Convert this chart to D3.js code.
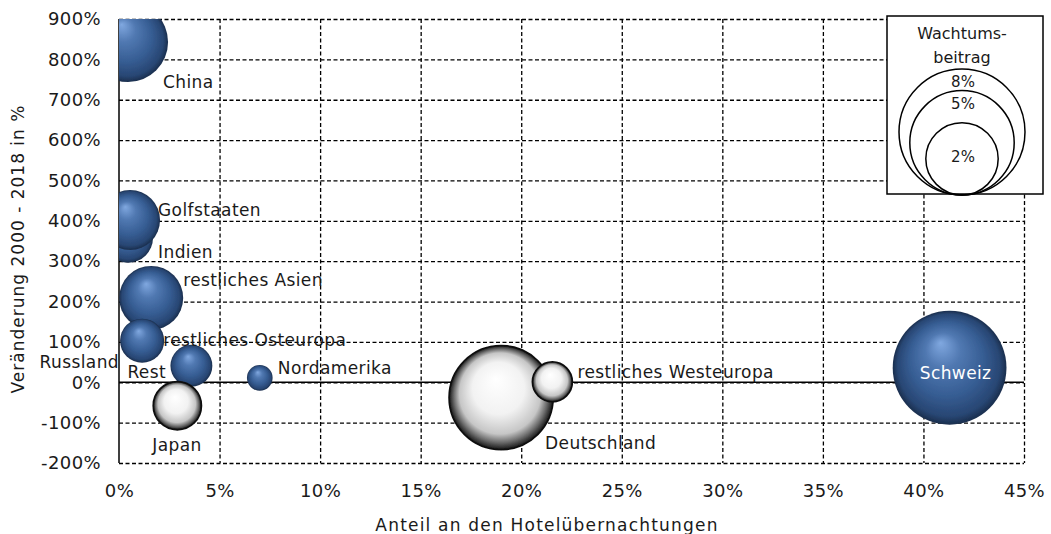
<!DOCTYPE html>
<html>
<head>
<meta charset="utf-8">
<script src="https://cdn.jsdelivr.net/npm/d3@7"></script>
<style>
    body { margin: 0; background: #fff; }
    svg text { font-family: "DejaVu Sans", sans-serif; fill: #1a1a1a; }
</style>
</head>
<body>
<script>
"use strict";

// bubble data
const countries = ["Russland", "China", "Indien", "Golfstaaten", "restliches Asien", "restliches Osteuropa", "Rest", "Nordamerika", "Japan", "Deutschland", "restliches Westeuropa", "Schweiz"];
const shareNights = [0.6, 0.45, 0.45, 0.55, 1.6, 1.15, 3.6, 7.0, 2.9, 19.0, 21.55, 41.3];
const change2000to2018 = [90, 843, 358, 402, 209, 103, 41, 11, -58, -38, 1, 36];
const growthContribution = [0.03, 2.57, 0.79, 1.25, 1.47, 0.58, 0.51, 0.15, -0.72, -4.95, -0.45, 6.2];

const xTicks = [0, 5, 10, 15, 20, 25, 30, 35, 40, 45];
const yTicks = [-200, -100, 0, 100, 200, 300, 400, 500, 600, 700, 800, 900];
const legendSizes = [8, 5, 2];

(function(){
    const measurements = {
        width: 1051,
        height: 534,
        left: 119,
        right: 1024,
        top: 19,
        bottom: 463
    }

    // where each label sits relative to its bubble centre
    const labelOffset = {
        "Russland": [-12, 16, "end"],
        "China": [35, 40, "start"],
        "Indien": [30, 14, "start"],
        "Golfstaaten": [28, -10, "start"],
        "restliches Asien": [32, -18, "start"],
        "restliches Osteuropa": [21, -1, "start"],
        "Rest": [-64, 6, "start"],
        "Nordamerika": [18, -10, "start"],
        "Japan": [-25, 39, "start"],
        "Deutschland": [44, 45, "start"],
        "restliches Westeuropa": [25, -10, "start"],
        "Schweiz": [6, 5, "middle"]
    }

    let svg = d3.select("body").append("svg")
        .attr("width", measurements.width)
        .attr("height", measurements.height)

    let scaleX = d3.scaleLinear()
        .domain([0, 45])
        .range([measurements.left, measurements.right])
    let scaleY = d3.scaleLinear()
        .domain([-200, 900])
        .range([measurements.bottom, measurements.top])
    let scaleR = d3.scalePow().exponent(0.4)
        .domain([0, 8])
        .range([0, 63])

    let defs = svg.append("defs")
    defs.append("clipPath").attr("id", "plot-clip")
        .append("rect")
        .attr("x", measurements.left)
        .attr("y", measurements.top)
        .attr("width", measurements.right - measurements.left)
        .attr("height", measurements.bottom - measurements.top)

    let blue = defs.append("radialGradient").attr("id", "blue-ball")
        .attr("cx", "50%").attr("cy", "50%").attr("r", "50%")
        .attr("fx", "42%").attr("fy", "28%")
    blue.append("stop").attr("offset", "0%").attr("stop-color", "#80a8e0")
    blue.append("stop").attr("offset", "30%").attr("stop-color", "#5179b2")
    blue.append("stop").attr("offset", "65%").attr("stop-color", "#365d93")
    blue.append("stop").attr("offset", "90%").attr("stop-color", "#284673")
    blue.append("stop").attr("offset", "100%").attr("stop-color", "#1a2e4d")

    let white = defs.append("radialGradient").attr("id", "white-ball")
        .attr("cx", "50%").attr("cy", "50%").attr("r", "50%")
        .attr("fx", "45%").attr("fy", "32%")
    white.append("stop").attr("offset", "0%").attr("stop-color", "#ffffff")
    white.append("stop").attr("offset", "50%").attr("stop-color", "#f2f2f2")
    white.append("stop").attr("offset", "78%").attr("stop-color", "#c6c6c6")
    white.append("stop").attr("offset", "90%").attr("stop-color", "#6a6a6a")
    white.append("stop").attr("offset", "100%").attr("stop-color", "#151515")

    defs.append("filter").attr("id", "soft")
        .append("feGaussianBlur").attr("stdDeviation", 0.7)

    // dashed grid
    let grid = svg.append("g")
    grid.append("g")
        .attr("transform", "translate(" + measurements.left + ",0)")
        .call(d3.axisLeft(scaleY).tickValues(yTicks).tickSize(-(measurements.right - measurements.left)).tickFormat(""))
        .call(g => g.select(".domain").remove())
    grid.append("g")
        .attr("transform", "translate(0," + measurements.top + ")")
        .call(d3.axisBottom(scaleX).tickValues(xTicks.slice(1)).tickSize(measurements.bottom - measurements.top).tickFormat(""))
        .call(g => g.select(".domain").remove())
    grid.selectAll("line")
        .attr("stroke", "#000")
        .attr("stroke-width", 1.3)
        .attr("stroke-dasharray", "4,2.5")

    // solid y axis line and zero line
    svg.append("line")
        .attr("x1", measurements.left).attr("x2", measurements.left)
        .attr("y1", measurements.top).attr("y2", measurements.bottom)
        .attr("stroke", "#000").attr("stroke-width", 1.5)
    svg.append("line")
        .attr("x1", measurements.left).attr("x2", measurements.right)
        .attr("y1", scaleY(0)).attr("y2", scaleY(0))
        .attr("stroke", "#000").attr("stroke-width", 1.5)

    // tick labels
    let yAxis = svg.append("g")
        .attr("transform", "translate(" + measurements.left + ",0)")
        .call(d3.axisLeft(scaleY).tickValues(yTicks).tickSize(0).tickPadding(18).tickFormat(d => d + "%"))
    let xAxis = svg.append("g")
        .attr("transform", "translate(0," + measurements.bottom + ")")
        .call(d3.axisBottom(scaleX).tickValues(xTicks).tickSize(0).tickFormat(d => d + "%"))
    xAxis.selectAll("text").attr("y", 28).attr("dy", "0.35em")
    svg.selectAll(".domain").remove()
    svg.selectAll(".tick text")
        .attr("font-family", "DejaVu Sans")
        .attr("font-size", 18)
        .attr("letter-spacing", 0.4)
        .attr("fill", "#1a1a1a")

    // axis titles
    svg.append("text")
        .attr("x", 547).attr("y", 525)
        .attr("text-anchor", "middle").attr("dy", "0.35em")
        .attr("font-size", 17).attr("letter-spacing", 1.2)
        .text("Anteil an den Hotelübernachtungen")
    svg.append("text")
        .attr("transform", "translate(18,249) rotate(-90)")
        .attr("text-anchor", "middle").attr("dy", "0.35em")
        .attr("font-size", 17).attr("letter-spacing", 1.0)
        .text("Veränderung 2000 - 2018 in %")

    // bubbles
    let data = countries.map((name, i) => ({
        name: name,
        share: shareNights[i],
        change: change2000to2018[i],
        contribution: growthContribution[i]
    }))

    svg.append("g")
        .attr("clip-path", "url(#plot-clip)")
        .selectAll("circle")
        .data(data)
        .enter()
        .append("circle")
            .attr("cx", d => scaleX(d.share))
            .attr("cy", d => scaleY(d.change))
            .attr("r", d => scaleR(Math.abs(d.contribution)))
            .attr("fill", d => d.contribution < 0 ? "url(#white-ball)" : "url(#blue-ball)")
            .attr("stroke", d => d.contribution < 0 ? "#111" : "none")
            .attr("stroke-width", 1.8)
            .attr("filter", "url(#soft)")

    // labels
    svg.append("g")
        .selectAll("text")
        .data(data)
        .enter()
        .append("text")
            .attr("x", d => scaleX(d.share) + labelOffset[d.name][0])
            .attr("y", d => scaleY(d.change) + labelOffset[d.name][1])
            .attr("dy", "0.35em")
            .attr("text-anchor", d => labelOffset[d.name][2])
            .attr("font-size", 17)
            .attr("letter-spacing", 0.4)
            .style("fill", d => d.name === "Schweiz" ? "#fff" : "#1a1a1a")
            .text(d => d.name)

    // legend for bubble size
    let legend = svg.append("g")
    const legendBox = { x: 887, y: 16, w: 156, h: 178 }
    const legendCx = 962
    const legendBase = legendBox.y + legendBox.h + 1
    legend.append("rect")
        .attr("x", legendBox.x).attr("y", legendBox.y)
        .attr("width", legendBox.w).attr("height", legendBox.h)
        .attr("fill", "#fff").attr("stroke", "#000").attr("stroke-width", 1.5)
    legend.append("text")
        .attr("x", legendCx).attr("y", 33).attr("dy", "0.35em")
        .attr("text-anchor", "middle").attr("font-size", 16)
        .text("Wachtums-")
    legend.append("text")
        .attr("x", legendCx).attr("y", 57).attr("dy", "0.35em")
        .attr("text-anchor", "middle").attr("font-size", 16)
        .text("beitrag")
    legend.selectAll("circle")
        .data(legendSizes)
        .enter()
        .append("circle")
            .attr("cx", legendCx)
            .attr("cy", d => legendBase - scaleR(d))
            .attr("r", d => scaleR(d))
            .attr("fill", "none")
            .attr("stroke", "#000")
            .attr("stroke-width", 1.5)
    legend.selectAll(".size-label")
        .data(legendSizes)
        .enter()
        .append("text")
            .attr("class", "size-label")
            .attr("x", legendCx + 1)
            .attr("y", d => d === 2 ? legendBase - scaleR(d) - 2 : legendBase - 2 * scaleR(d) + 13)
            .attr("dy", "0.35em")
            .attr("text-anchor", "middle")
            .attr("font-size", 15)
            .text(d => d + "%")
})()
</script>
</body>
</html>
